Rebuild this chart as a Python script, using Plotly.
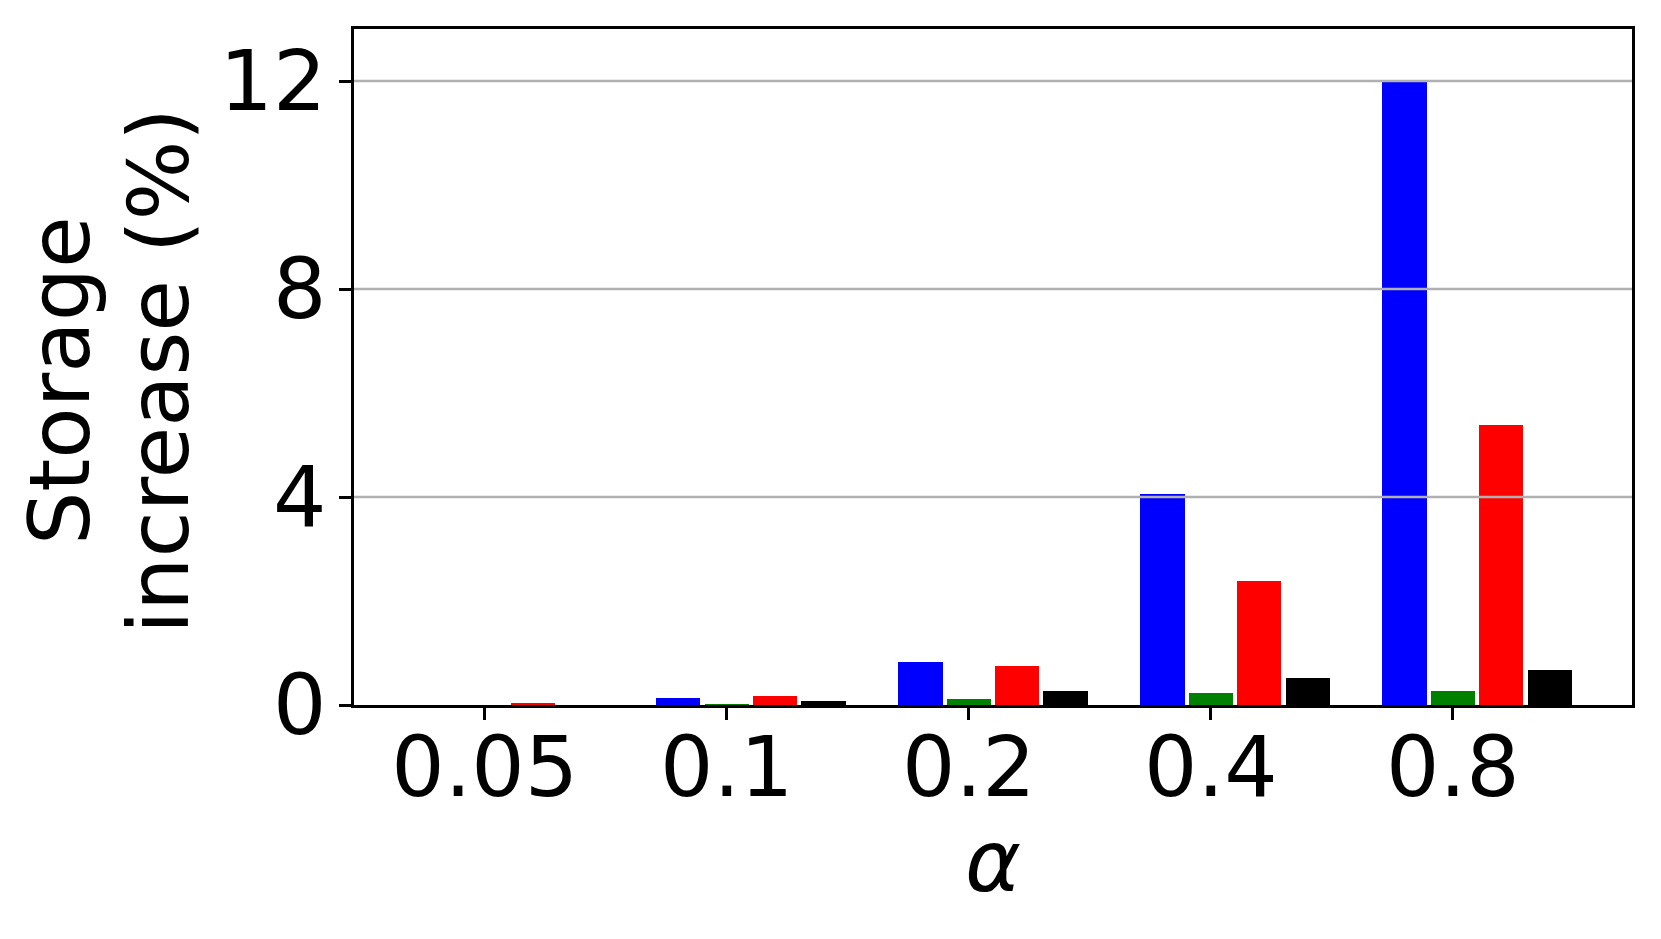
import plotly.graph_objects as go

categories = ["0.05", "0.1", "0.2", "0.4", "0.8"]
series_names = ["S1", "S2", "S3", "S4"]
blue_vals = [0.0, 0.14, 0.83, 4.05, 11.99]
green_vals = [0.0, 0.005, 0.12, 0.24, 0.26]
red_vals = [0.03, 0.18, 0.75, 2.38, 5.39]
black_vals = [0.0, 0.08, 0.26, 0.51, 0.67]
colors = ["#0000ff", "#008000", "#ff0000", "#000000"]
offsets = [-0.2, 0.0, 0.2, 0.4]
y_ticks = [0, 4, 8, 12]

FONT = "DejaVu Sans"
W, H = 1661, 939
ML, MR, MT, MB = 354, 29, 29, 234
PW = W - ML - MR
PH = H - MT - MB

fig = go.Figure()
for name, vals, col, off in zip(series_names, [blue_vals, green_vals, red_vals, black_vals], colors, offsets):
    fig.add_trace(go.Bar(
        x=[i + off for i in range(len(categories))],
        y=vals, width=0.183, name=name,
        marker=dict(color=col, line=dict(width=0)),
    ))

for t in y_ticks[1:]:
    fig.add_shape(type="line", xref="paper", x0=0, x1=1, yref="y", y0=t, y1=t,
                  line=dict(color="#b0b0b0", width=2.5), layer="above")

# y-axis title as two lines (pixel centres)
for txt, cx, cy in [("Storage", 60, 381), ("increase (%)", 159, 371)]:
    fig.add_annotation(text=txt, textangle=-90, xref="paper", yref="paper",
                       x=(cx - ML) / PW, y=(H - MB - cy) / PH,
                       xanchor="center", yanchor="middle",
                       showarrow=False, font=dict(size=84, family=FONT, color="black"))

# x-axis title
fig.add_annotation(text="<i>α</i>", xref="paper", yref="paper",
                   x=0.5, y=-(861 - (H - MB)) / PH, xanchor="center", yanchor="middle",
                   showarrow=False, font=dict(size=85, family=FONT, color="black"))

fig.update_layout(
    width=W, height=H,
    paper_bgcolor="white", plot_bgcolor="white",
    margin=dict(l=ML, r=MR, t=MT, b=MB),
    showlegend=False, bargap=0,
    font=dict(family=FONT, color="black"),
)
fig.update_xaxes(
    range=[-0.54, 4.74], tickmode="array",
    tickvals=list(range(len(categories))), ticktext=categories,
    tickfont=dict(size=84, family=FONT), showgrid=False, zeroline=False,
    showline=True, linecolor="black", linewidth=2.5, mirror=True,
    ticks="outside", ticklen=12, tickwidth=2.5, tickcolor="black",
    ticklabelstandoff=-25, automargin=False,
)
fig.update_yaxes(
    range=[0, 13], tickmode="array", tickvals=y_ticks,
    tickfont=dict(size=84, family=FONT), showgrid=False, zeroline=False,
    showline=True, linecolor="black", linewidth=2.5, mirror=True,
    ticks="outside", ticklen=12, tickwidth=2.5, tickcolor="black",
    ticklabelstandoff=-4, automargin=False,
)
fig.write_html("out.html", config={"displayModeBar": False},
               post_script="document.body.style.margin='0px';document.body.style.overflow='hidden';")
